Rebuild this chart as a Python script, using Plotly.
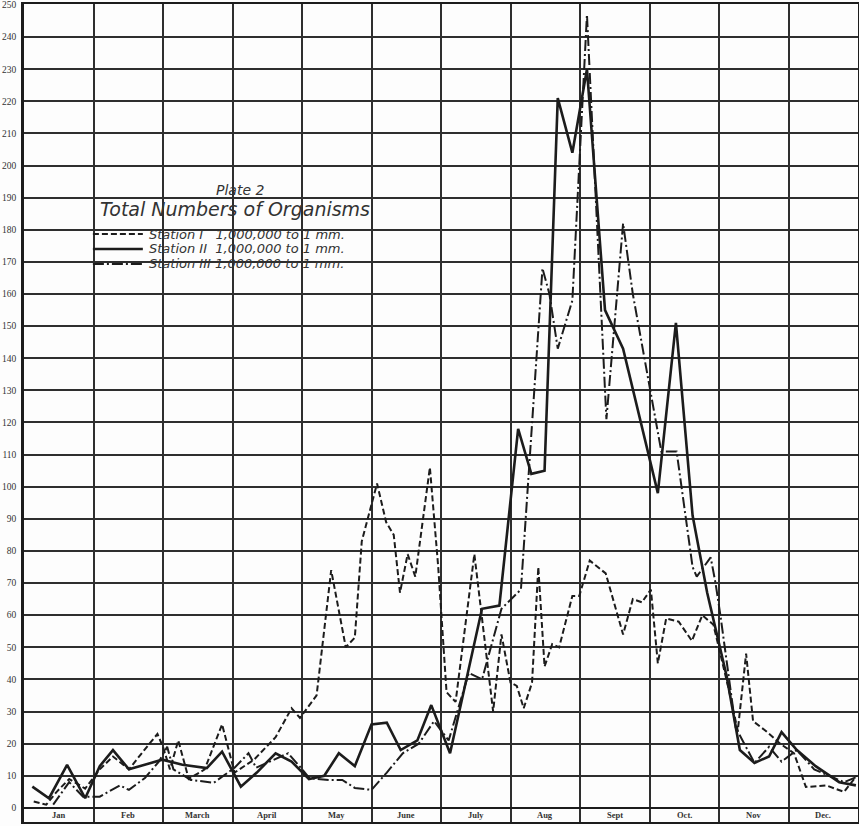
import plotly.graph_objects as go

# time axis in month units (0 = start of Jan, 12 = end of Dec)
months = ["Jan", "Feb", "March", "April", "May", "June", "July", "Aug", "Sept", "Oct.", "Nov", "Dec."]
y_ticks = list(range(0, 251, 10))

st1_t = [0.14, 0.32, 0.47, 0.65, 0.88, 1.09, 1.28, 1.51, 1.73, 1.92, 2.00, 2.10, 2.22, 2.37, 2.60, 2.85,
         3.03, 3.31, 3.62, 3.85, 3.97, 4.11, 4.21, 4.42, 4.63, 4.76, 4.86, 5.08, 5.21, 5.32, 5.41, 5.52,
         5.63, 5.84, 5.96, 6.08, 6.21, 6.48, 6.75, 6.87, 7.00, 7.09, 7.19, 7.31, 7.40, 7.49, 7.60, 7.70,
         7.89, 7.99, 8.14, 8.37, 8.62, 8.76, 8.89, 9.02, 9.12, 9.24, 9.42, 9.61, 9.76, 9.92, 10.15, 10.27,
         10.39, 10.49, 10.67, 10.88, 11.08, 11.25, 11.54, 11.80, 11.98]
st1_v = [2, 1, 5, 9, 6, 12, 16, 12, 18, 23, 19, 12, 21, 9, 12, 26,
         11, 15, 22, 31, 28, 32, 35, 74, 50, 53, 83, 101, 89, 85, 67, 79,
         72, 106, 75, 36, 33, 79, 30, 54, 39, 38, 31, 39, 75, 44, 51, 50,
         66, 66, 77, 73, 54, 65, 64, 68, 45, 59, 58, 52, 60, 57, 36, 24,
         48, 27, 24, 20, 17, 6.5, 7, 5, 10]

st2_t = [0.12, 0.36, 0.62, 0.88, 1.09, 1.28, 1.51, 1.99, 2.28, 2.63, 2.85, 3.12, 3.35, 3.62, 3.85,
         4.10, 4.32, 4.53, 4.76, 5.00, 5.22, 5.42, 5.66, 5.86, 6.13, 6.59, 6.84, 7.11, 7.30, 7.49,
         7.68, 7.89, 8.10, 8.36, 8.62, 9.12, 9.38, 9.62, 9.83, 10.11, 10.30, 10.51, 10.72, 10.90,
         11.12, 11.39, 11.73, 11.97]
st2_v = [6.6, 3, 13.4, 3, 13, 18, 12, 15, 13.4, 12.4, 17.5, 6.6, 11, 17, 14.4,
         9, 10, 17, 13, 26, 26.5, 18, 21, 32, 17, 62, 63, 118, 104, 105,
         221, 204, 230, 155, 143, 98, 151, 91, 67, 41, 18, 14, 16, 23.6,
         18, 13, 8, 7]

st3_t = [0.42, 0.65, 0.85, 1.09, 1.38, 1.51, 1.74, 1.94, 2.06, 2.15, 2.40, 2.73, 3.03, 3.23, 3.34,
         3.80, 3.97, 4.11, 4.39, 4.58, 4.76, 5.00, 5.22, 5.45, 5.68, 5.90, 6.11, 6.40, 6.59, 6.87,
         7.15, 7.46, 7.56, 7.68, 7.89, 8.10, 8.38, 8.62, 8.76, 9.17, 9.39, 9.62, 9.68, 9.88, 9.95,
         10.02, 10.24, 10.51, 10.72, 10.90, 11.12, 11.37, 11.80, 11.98]
st3_v = [1, 8, 3.5, 3.5, 7, 5.6, 9.3, 14.4, 19, 12, 8.7, 7.8, 12.5, 17, 12.5,
         17, 12.8, 9.2, 8.7, 8.7, 6.2, 5.6, 11, 17, 20, 27, 21, 42, 40, 62,
         68, 168, 160, 143, 158, 247, 121, 182, 160, 111, 111, 75, 72, 78, 70,
         60, 25, 14, 19, 14.4, 18, 12, 8, 9.6]

series = [
    ("Station I", st1_t, st1_v, "6px,3px", 2.0),
    ("Station II", st2_t, st2_v, "solid", 2.6),
    ("Station III", st3_t, st3_v, "11px,3px,2px,3px", 2.0),
]
legend_text = [
    "Station I   1,000,000 to 1 mm.",
    "Station II  1,000,000 to 1 mm.",
    "Station III 1,000,000 to 1 mm.",
]

INK = "#1c1c1c"
GRID = "#2e2e2e"

fig = go.Figure()
for name, t, v, dash, w in series:
    fig.add_trace(go.Scatter(x=t, y=v, mode="lines", name=name,
                             line=dict(color=INK, width=w, dash=dash),
                             showlegend=False))

# month labels in the strip below zero
for i, m in enumerate(months):
    fig.add_annotation(x=i + 0.5, y=-2.2, xref="x", yref="y", text=f"<b>{m}</b>",
                       showarrow=False, xanchor="center", yanchor="middle",
                       font=dict(family="Liberation Serif", size=8.5, color="#333"))

# title block
fig.add_annotation(x=0.259, y=0.7726, xref="paper", yref="paper", text="Plate 2",
                   showarrow=False, xanchor="center", yanchor="middle",
                   font=dict(family="DejaVu Sans", size=14, color="#333", style="italic"))
fig.add_annotation(x=0.2525, y=0.7494, xref="paper", yref="paper", text="Total Numbers of Organisms",
                   showarrow=False, xanchor="center", yanchor="middle",
                   font=dict(family="DejaVu Sans", size=19, color="#333", style="italic"))

# hand-drawn legend
ly = [0.7188, 0.7005, 0.6822]
for (name, t, v, dash, w), txt, yy in zip(series, legend_text, ly):
    fig.add_shape(type="line", xref="paper", yref="paper", x0=0.0826, x1=0.1425, y0=yy, y1=yy,
                  line=dict(color=INK, width=w, dash=dash))
    fig.add_annotation(x=0.1473, y=yy, xref="paper", yref="paper", text=txt,
                       xanchor="left", yanchor="middle", showarrow=False,
                       font=dict(family="DejaVu Sans", size=13, color="#333", style="italic"))

fig.update_xaxes(range=[0, 12], tickvals=list(range(0, 13)), showticklabels=False,
                 showgrid=True, gridcolor=GRID, gridwidth=1.5, zeroline=False, automargin=False,
                 showline=True, linecolor=INK, linewidth=2, mirror=True, ticks="")
fig.update_yaxes(range=[-4.4, 250.3], tickvals=y_ticks, ticktext=[str(v) for v in y_ticks],
                 showgrid=True, gridcolor=GRID, gridwidth=1.5, zeroline=True, zerolinecolor=INK,
                 zerolinewidth=2, showline=True, linecolor=INK, linewidth=2.5, mirror=True, ticks="",
                 automargin=False, ticklabelstandoff=3,
                 tickfont=dict(family="Liberation Serif", size=9.5, color="#333"))

fig.update_layout(width=859, height=826, margin=dict(l=24, r=1, t=4, b=4, autoexpand=False),
                  paper_bgcolor="#fdfdfd", plot_bgcolor="#fdfdfd", showlegend=False)

fig.write_html("out.html", config={"displayModeBar": False},
               post_script="document.body.style.margin='0';document.body.style.overflow='hidden';")
